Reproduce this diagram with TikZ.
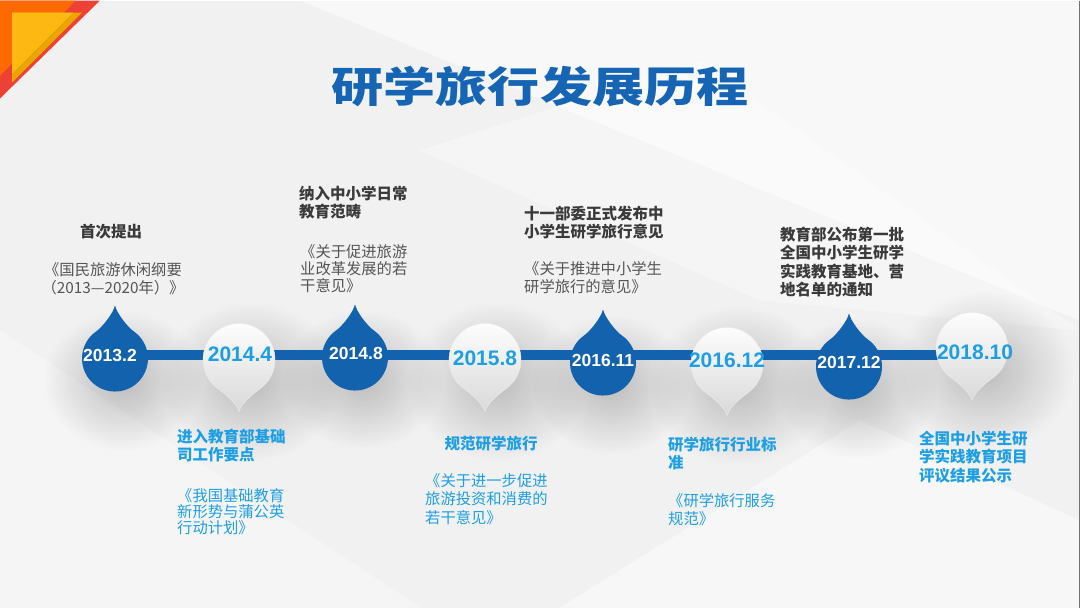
\documentclass[tikz,border=0pt]{standalone}
\usepackage{fontspec}
\setmainfont{Liberation Sans}
\newfontfamily\cjk{Noto Sans CJK SC}
\usetikzlibrary{calc,fadings}

\definecolor{bleu}{HTML}{1262AD}
\definecolor{bleuclair}{HTML}{1E9FE3}
\definecolor{titre}{HTML}{1565B4}
\definecolor{gristexte}{HTML}{3A3A3A}
\definecolor{grisdoc}{HTML}{555555}
\definecolor{fond}{HTML}{F1F1F1}
\definecolor{rouge}{HTML}{EE4136}
\definecolor{orangecoin}{HTML}{FF6A00}
\definecolor{jaune}{HTML}{FDB813}
\definecolor{jaunefonce}{HTML}{E9A600}

\tikzfading[name=ombre, inner color=transparent!0, outer color=transparent!100]

\tikzset{
	titretxt/.style={text=titre, font=\cjk\bfseries\fontsize{42}{42}\selectfont, inner sep=0pt},
	tete/.style={text=gristexte, font=\cjk\bfseries\fontsize{15.5}{18.5}\selectfont, inner sep=0pt, align=left},
	doc/.style={text=grisdoc, font=\cjk\fontsize{15.3}{18.3}\selectfont, inner sep=0pt, align=left},
	tetebas/.style={tete, text=bleuclair},
	docbas/.style={doc, text=bleuclair},
	datebleu/.style={text=white, font=\bfseries\fontsize{17.5}{17.5}\selectfont, inner sep=0pt},
	dateblanc/.style={text=bleuclair, font=\bfseries\fontsize{21}{21}\selectfont, inner sep=0pt},
	ombrage/.style={fill=black, opacity=0.22, path fading=ombre},
	ligne/.style={draw=bleu, line width=10pt},
	gouttehaut/.pic={
		\fill[bleu] (0,-53) .. controls +(2,8) and +(-6.5,-4.6) .. (18.9,-27)
			arc[start angle=-55, end angle=235, radius=33]
			.. controls +(6.5,-4.6) and +(-2,8) .. (0,-53) -- cycle;
	},
	gouttebas/.pic={
		\shade[top color=white, bottom color=black!15, draw=black!7] (0,52) .. controls +(-2,-8) and +(6.5,4.6) .. (-20.6,29.5)
			arc[start angle=125, end angle=415, radius=36]
			.. controls +(-6.5,4.6) and +(2,-8) .. (0,52) -- cycle;
	},
}

\begin{document}
\begin{tikzpicture}[x=1pt,y=-1pt]
	% le fond
	\fill[fond] (0,0) rectangle (1080,607);
	\fill[white,opacity=.55] (300,0) -- (1080,0) -- (1080,320) -- cycle;
	\fill[white,opacity=.35] (0,330) -- (420,607) -- (0,607) -- cycle;
	\fill[white,opacity=.45] (560,607) -- (860,420) -- (1080,520) -- (1080,607) -- cycle;
	\fill[white,opacity=.3] (420,150) -- (700,60) -- (1080,330) -- (760,300) -- cycle;
	\draw[black!55, line width=1pt] (1079.5,0) -- (1079.5,607);

	% le coin
	\fill[rouge] (0,0) -- (100,0) -- (0,98) -- cycle;
	\fill[orangecoin] (0,0) -- (76,0) -- (0,75) -- cycle;
	\fill[jaunefonce] (12,12) -- (82,12) -- (12,82) -- cycle;
	\fill[jaune] (12,12) -- (73,12) -- (12,73) -- cycle;

	% le titre
	\node[titretxt] (titre) at (540,86) {\scalebox{1.24}[1]{研学旅行发展历程}};

	% les jalons
	\coordinate (c1) at (115,358);
	\coordinate (c2) at (239,359);
	\coordinate (c3) at (355,357);
	\coordinate (c4) at (485,359);
	\coordinate (c5) at (603,362);
	\coordinate (c6) at (727,363);
	\coordinate (c7) at (849,366);
	\coordinate (c8) at (972,348);

	% les ombres
	\fill[ombrage] ($(c1)+(8,22)$) ellipse (80 and 70);
	\fill[ombrage] ($(c2)+(12,22)$) ellipse (90 and 80);
	\fill[ombrage] ($(c3)+(8,22)$) ellipse (80 and 70);
	\fill[ombrage] ($(c4)+(12,22)$) ellipse (90 and 80);
	\fill[ombrage] ($(c5)+(8,22)$) ellipse (80 and 70);
	\fill[ombrage] ($(c6)+(12,22)$) ellipse (90 and 80);
	\fill[ombrage] ($(c7)+(8,22)$) ellipse (80 and 70);
	\fill[ombrage] ($(c8)+(12,22)$) ellipse (90 and 80);

	% la ligne
	\coordinate (debut) at (84,354);
	\coordinate (fin) at (950,354);
	\draw[ligne] (debut) -- (fin);

	\pic at (c1) {gouttehaut};
	\pic at (c2) {gouttebas};
	\pic at (c3) {gouttehaut};
	\pic at (c4) {gouttebas};
	\pic at (c5) {gouttehaut};
	\pic at (c6) {gouttebas};
	\pic at (c7) {gouttehaut};
	\pic at (c8) {gouttebas};

	% les dates
	\node[datebleu] (n1) at (110,355) {2013.2};
	\node[dateblanc] (n2) at (240,354) {2014.4};
	\node[datebleu] (n3) at (356,353) {2014.8};
	\node[dateblanc] (n4) at (485,358) {2015.8};
	\node[datebleu] (n5) at (603,360) {2016.11};
	\node[dateblanc] (n6) at (727,360) {2016.12};
	\node[datebleu] (n7) at (849,362) {2017.12};
	\node[dateblanc] (n8) at (975,352) {2018.10};

	% en haut
	\node[tete, anchor=north] (t1) at (111,223) {首次提出};
	\node[doc, align=center, anchor=north] (d1) at (113,262) {《国民旅游休闲纲要\\（2013—2020年）》};
	\node[tete, anchor=north west] (t3) at (299,185) {纳入中小学日常\\教育范畴};
	\node[doc, font=\cjk\fontsize{15.3}{16.7}\selectfont, anchor=north west] (d3) at (300,244) {《关于促进旅游\\业改革发展的若\\干意见》};
	\node[tete, anchor=north west] (t5) at (524,205) {十一部委正式发布中\\小学生研学旅行意见};
	\node[doc, anchor=north west] (d5) at (524,261) {《关于推进中小学生\\研学旅行的意见》};
	\node[tete, anchor=north west] (t7) at (780,226) {教育部公布第一批\\全国中小学生研学\\实践教育基地、营\\地名单的通知};

	% en bas
	\node[tetebas, anchor=north west] (t2) at (177,428) {进入教育部基础\\司工作要点};
	\node[docbas, font=\cjk\fontsize{15.3}{16}\selectfont, anchor=north west] (d2) at (177,488) {《我国基础教育\\新形势与蒲公英\\行动计划》};
	\node[tetebas, anchor=north] (t4) at (491,435) {规范研学旅行};
	\node[docbas, anchor=north west] (d4) at (425,473) {《关于进一步促进\\旅游投资和消费的\\若干意见》};
	\node[tetebas, anchor=north west] (t6) at (668,436) {研学旅行行业标\\准};
	\node[docbas, anchor=north west] (d6) at (668,493) {《研学旅行服务\\规范》};
	\node[tetebas, anchor=north west] (t8) at (919,430) {全国中小学生研\\学实践教育项目\\评议结果公示};
\end{tikzpicture}
\end{document}
